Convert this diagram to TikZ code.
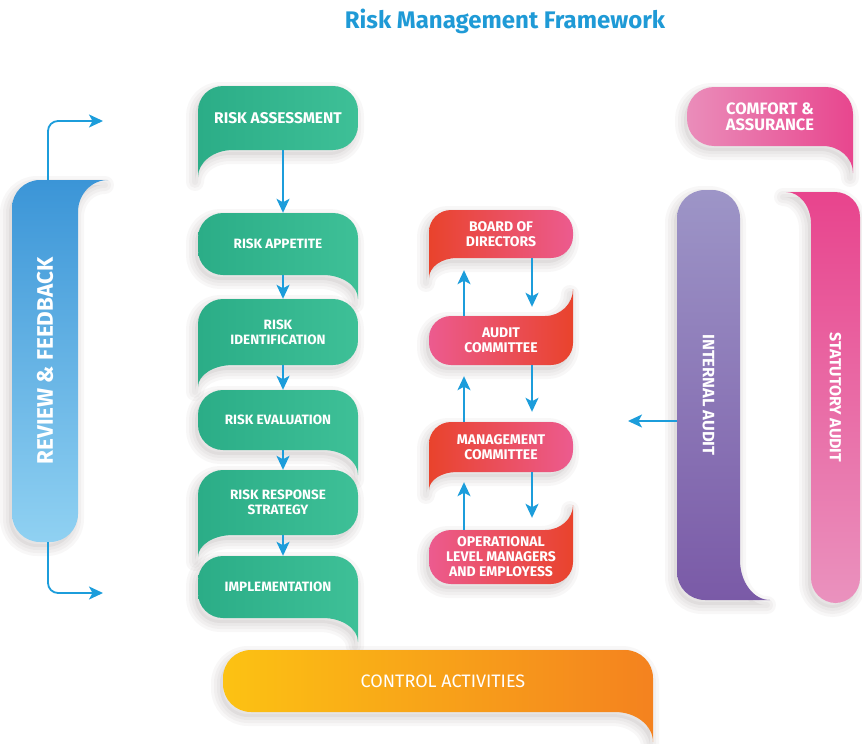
\documentclass[tikz,border=0pt]{standalone}
\usepackage{fontspec}
\setmainfont{Fira Sans}
\usetikzlibrary{arrows.meta}

\definecolor{titleblue}{HTML}{1F9AD6}
\definecolor{arrowblue}{HTML}{1C9DDB}
\definecolor{greenA}{HTML}{2BAD87}
\definecolor{greenB}{HTML}{3EC097}
\definecolor{redA}{HTML}{E9432C}
\definecolor{pinkA}{HTML}{EC5B8F}
\definecolor{comfA}{HTML}{EA8DBA}
\definecolor{comfB}{HTML}{E8468E}
\definecolor{purA}{HTML}{9D95C7}
\definecolor{purB}{HTML}{7A5AA7}
\definecolor{statA}{HTML}{E8448D}
\definecolor{statB}{HTML}{EA92BE}
\definecolor{blueA}{HTML}{3B95D7}
\definecolor{blueB}{HTML}{90D1F2}
\definecolor{orA}{HTML}{FCC213}
\definecolor{orM}{HTML}{F6961F}
\definecolor{orB}{HTML}{F4821F}
\definecolor{shade}{HTML}{5A4A4A}

\newcommand\setfs[2]{\fontsize{#1}{#2}\selectfont}
\def\kk{0.552}

% Ribbon shapes: #1 options, (#2,#3) top-left, (#4,#5) bottom-right,
% #6 corner radius, #7 tail length, #8 tail width.
% tail at the bottom-left corner, hanging down
\newcommand\shapeBL[8]{%
 \path[#1] (#2,{#5+#7}) -- (#2,{#3+#6})
  .. controls (#2,{#3+(1-\kk)*#6}) and ({#2+(1-\kk)*#6},#3) .. ({#2+#6},#3)
  -- ({#4-#6},#3)
  .. controls ({#4-(1-\kk)*#6},#3) and (#4,{#3+(1-\kk)*#6}) .. (#4,{#3+#6})
  -- (#4,{#5-#6})
  .. controls (#4,{#5-(1-\kk)*#6}) and ({#4-(1-\kk)*#6},#5) .. ({#4-#6},#5)
  -- ({#2+#8},#5)
  .. controls ({#2+(1-\kk)*#8},#5) and (#2,{#5+(1-\kk)*#7}) .. (#2,{#5+#7}) -- cycle;}
% tail at the bottom-right corner, hanging down
\newcommand\shapeBR[8]{%
 \path[#1] (#4,{#5+#7})
  .. controls (#4,{#5+(1-\kk)*#7}) and ({#4-(1-\kk)*#8},#5) .. ({#4-#8},#5)
  -- ({#2+#6},#5)
  .. controls ({#2+(1-\kk)*#6},#5) and (#2,{#5-(1-\kk)*#6}) .. (#2,{#5-#6})
  -- (#2,{#3+#6})
  .. controls (#2,{#3+(1-\kk)*#6}) and ({#2+(1-\kk)*#6},#3) .. ({#2+#6},#3)
  -- ({#4-#6},#3)
  .. controls ({#4-(1-\kk)*#6},#3) and (#4,{#3+(1-\kk)*#6}) .. (#4,{#3+#6})
  -- cycle;}
% tail at the top-right corner, rising up
\newcommand\shapeTR[8]{%
 \path[#1] (#4,{#3-#7}) -- (#4,{#5-#6})
  .. controls (#4,{#5-(1-\kk)*#6}) and ({#4-(1-\kk)*#6},#5) .. ({#4-#6},#5)
  -- ({#2+#6},#5)
  .. controls ({#2+(1-\kk)*#6},#5) and (#2,{#5-(1-\kk)*#6}) .. (#2,{#5-#6})
  -- (#2,{#3+#6})
  .. controls (#2,{#3+(1-\kk)*#6}) and ({#2+(1-\kk)*#6},#3) .. ({#2+#6},#3)
  -- ({#4-#8},#3)
  .. controls ({#4-(1-\kk)*#8},#3) and (#4,{#3-(1-\kk)*#7}) .. (#4,{#3-#7}) -- cycle;}
% tail at the bottom-right corner, reaching right
\newcommand\shapeRB[8]{%
 \path[#1] ({#4+#7},#5) -- ({#2+#6},#5)
  .. controls ({#2+(1-\kk)*#6},#5) and (#2,{#5-(1-\kk)*#6}) .. (#2,{#5-#6})
  -- (#2,{#3+#6})
  .. controls (#2,{#3+(1-\kk)*#6}) and ({#2+(1-\kk)*#6},#3) .. ({#2+#6},#3)
  -- ({#4-#6},#3)
  .. controls ({#4-(1-\kk)*#6},#3) and (#4,{#3+(1-\kk)*#6}) .. (#4,{#3+#6})
  -- (#4,{#5-#8})
  .. controls (#4,{#5-(1-\kk)*#8}) and ({#4+(1-\kk)*#7},#5) .. ({#4+#7},#5) -- cycle;}
% tail at the top-left corner, reaching left
\newcommand\shapeLT[8]{%
 \path[#1] ({#2-#7},#3) -- ({#4-#6},#3)
  .. controls ({#4-(1-\kk)*#6},#3) and (#4,{#3+(1-\kk)*#6}) .. (#4,{#3+#6})
  -- (#4,{#5-#6})
  .. controls (#4,{#5-(1-\kk)*#6}) and ({#4-(1-\kk)*#6},#5) .. ({#4-#6},#5)
  -- ({#2+#6},#5)
  .. controls ({#2+(1-\kk)*#6},#5) and (#2,{#5-(1-\kk)*#6}) .. (#2,{#5-#6})
  -- (#2,{#3+#8})
  .. controls (#2,{#3+(1-\kk)*#8}) and ({#2-(1-\kk)*#7},#3) .. ({#2-#7},#3) -- cycle;}
% tail at the top-right corner, reaching right
\newcommand\shapeRT[8]{%
 \path[#1] ({#4+#7},#3)
  .. controls ({#4+(1-\kk)*#7},#3) and (#4,{#3+(1-\kk)*#8}) .. (#4,{#3+#8})
  -- (#4,{#5-#6})
  .. controls (#4,{#5-(1-\kk)*#6}) and ({#4-(1-\kk)*#6},#5) .. ({#4-#6},#5)
  -- ({#2+#6},#5)
  .. controls ({#2+(1-\kk)*#6},#5) and (#2,{#5-(1-\kk)*#6}) .. (#2,{#5-#6})
  -- (#2,{#3+#6})
  .. controls (#2,{#3+(1-\kk)*#6}) and ({#2+(1-\kk)*#6},#3) .. ({#2+#6},#3)
  -- cycle;}

% a ribbon with its soft drop shadow: #1 shape macro, #2 fill options, #3-#9 geometry
\newcommand\rib[9]{%
 #1{shadowline, line width=18pt}{#3}{#4}{#5}{#6}{#7}{#8}{#9}%
 #1{shadowline, line width=12pt}{#3}{#4}{#5}{#6}{#7}{#8}{#9}%
 #1{shadowline, line width=6pt}{#3}{#4}{#5}{#6}{#7}{#8}{#9}%
 #1{shadowfill}{#3}{#4}{#5}{#6}{#7}{#8}{#9}%
 #1{#2}{#3}{#4}{#5}{#6}{#7}{#8}{#9}}

\tikzset{
  shadowline/.style={draw=shade, draw opacity=0.045, line join=round,
      xshift=-3pt, yshift=-5pt},
  shadowfill/.style={fill=shade, fill opacity=0.07, xshift=-3pt, yshift=-5pt},
  greenrib/.style={left color=greenA, right color=greenB},
  redpink/.style={left color=redA, right color=pinkA},
  pinkred/.style={left color=pinkA, right color=redA},
  lbl/.style={text=white, align=center, inner sep=0pt,
      font=\bfseries\setfs{13.5}{15}},
  slot/.style 2 args={minimum width=#1, minimum height=#2},
  arr/.style={draw=arrowblue, line width=1.8pt,
      -{Stealth[length=14pt,width=13pt,inset=3.5pt]}},
}

\begin{document}
\begin{tikzpicture}[x=1pt, y=-1pt]
\useasboundingbox (0,0) rectangle (862,744);

% title
\node[text=titleblue, font=\bfseries\setfs{24}{26}] (title) at (505,21)
  {Risk Management Framework};

% ---- risk process chain (green) ----
\rib\shapeBL{greenrib}{198}{86}{358}{150}{25}{27}{35}
\node[lbl, slot={160}{64}, font=\bfseries\setfs{15.5}{17}] (ra) at (278,118) {RISK ASSESSMENT};
\rib\shapeBR{greenrib}{198}{213}{358}{275}{25}{24}{35}
\node[lbl, slot={160}{62}] (rp) at (278,244) {RISK APPETITE};
\rib\shapeBL{greenrib}{198}{299}{358}{365}{25}{22}{35}
\node[lbl, slot={160}{66}] (ri) at (278,332) {RISK\\IDENTIFICATION};
\rib\shapeBR{greenrib}{198}{390}{358}{450}{25}{25}{35}
\node[lbl, slot={160}{60}] (re) at (278,420) {RISK EVALUATION};
\rib\shapeBL{greenrib}{198}{470}{358}{535}{25}{22}{35}
\node[lbl, slot={160}{65}] (rs) at (278,502.5) {RISK RESPONSE\\STRATEGY};
\rib\shapeBR{greenrib}{198}{556}{358}{618}{25}{24}{35}
\node[lbl, slot={160}{62}] (im) at (278,587) {IMPLEMENTATION};

\coordinate (gx) at (283,0);
\draw[arr] (ra.south -| gx) -- (rp.north -| gx);
\draw[arr] (rp.south -| gx) -- (ri.north -| gx);
\draw[arr] (ri.south -| gx) -- (re.north -| gx);
\draw[arr] (re.south -| gx) -- (rs.north -| gx);
\draw[arr] (rs.south -| gx) -- (im.north -| gx);

% ---- governance chain (red / pink) ----
\rib\shapeBL{redpink}{429}{210}{573}{258}{22}{20}{28}
\node[lbl, slot={144}{48}, font=\bfseries\setfs{14}{14.5}] (bd) at (501,234) {BOARD OF\\DIRECTORS};
\rib\shapeTR{pinkred}{429}{316}{573}{365}{22}{27}{28}
\node[lbl, slot={144}{49}, font=\bfseries\setfs{14}{14.5}] (ac) at (501,340.5) {AUDIT\\COMMITTEE};
\rib\shapeBL{redpink}{429}{422}{573}{472}{22}{18}{28}
\node[lbl, slot={144}{50}, font=\bfseries\setfs{14}{14.5}] (mc) at (501,447) {MANAGEMENT\\COMMITTEE};
\rib\shapeTR{pinkred}{429}{530}{573}{584}{22}{25}{28}
\node[lbl, slot={144}{54}, font=\bfseries\setfs{14}{15}] (op) at (501,557)
  {OPERATIONAL\\LEVEL MANAGERS\\AND EMPLOYESS};

\coordinate (ux) at (464,0);
\coordinate (dx) at (532,0);
\draw[arr, shorten >=12pt] (ac.north -| ux) -- (bd.south -| ux);
\draw[arr, shorten >=9pt]  (bd.south -| dx) -- (ac.north -| dx);
\draw[arr, shorten >=11pt] (mc.north -| ux) -- (ac.south -| ux);
\draw[arr, shorten >=10pt] (ac.south -| dx) -- (mc.north -| dx);
\draw[arr, shorten >=10pt] (op.north -| ux) -- (mc.south -| ux);
\draw[arr, shorten >=12pt] (mc.south -| dx) -- (op.north -| dx);

% ---- assurance (right) ----
\rib\shapeBR{left color=comfA, right color=comfB}{687}{87}{853}{146}{27}{27}{30}
\node[lbl, slot={166}{59}, font=\bfseries\setfs{16.5}{16}] (ca) at (770,116.5) {COMFORT \&\\ASSURANCE};

\rib\shapeRB{top color=purA, bottom color=purB}{677}{190}{740}{600}{28}{30}{40}
\node[slot={63}{410}] (ia) at (708.5,395) {};
\node[lbl, rotate=-90, font=\bfseries\setfs{16.5}{18}] (iat) at (ia.center) {INTERNAL AUDIT};

\rib\shapeLT{top color=statA, bottom color=statB}{811}{192}{860}{603}{25}{25}{32}
\node[slot={49}{411}] (sa) at (835.5,397.5) {};
\node[lbl, rotate=-90, font=\bfseries\setfs{16}{18}] (sat) at (sa.center) {STATUTORY AUDIT};

\coordinate (iaTip) at (628,421);
\draw[arr] (ia.west |- iaTip) -- (iaTip);

% ---- review & feedback (left) ----
\rib\shapeRT{top color=blueA, bottom color=blueB}{12}{180}{78}{542}{28}{30}{32}
\node[slot={66}{362}] (rf) at (45,361) {};
\node[lbl, rotate=90, font=\bfseries\setfs{22.5}{24}] (rft) at (rf.center) {REVIEW \& FEEDBACK};
\coordinate (fbTop) at (103,121);
\coordinate (fbBot) at (103,593);
\draw[arr, rounded corners=10pt] ([xshift=3pt]rf.north) |- (fbTop);
\draw[arr, rounded corners=10pt] ([xshift=3pt]rf.south) |- (fbBot);

% ---- control activities (bottom) ----
\rib\shapeBR{left color=orA, middle color=orM, right color=orB}{223}{650}{653}{712}{28}{30}{38}
\node[lbl, slot={430}{62}, font=\setfs{18}{20}] (ctl) at (443,681) {CONTROL ACTIVITIES};
\end{tikzpicture}
\end{document}
